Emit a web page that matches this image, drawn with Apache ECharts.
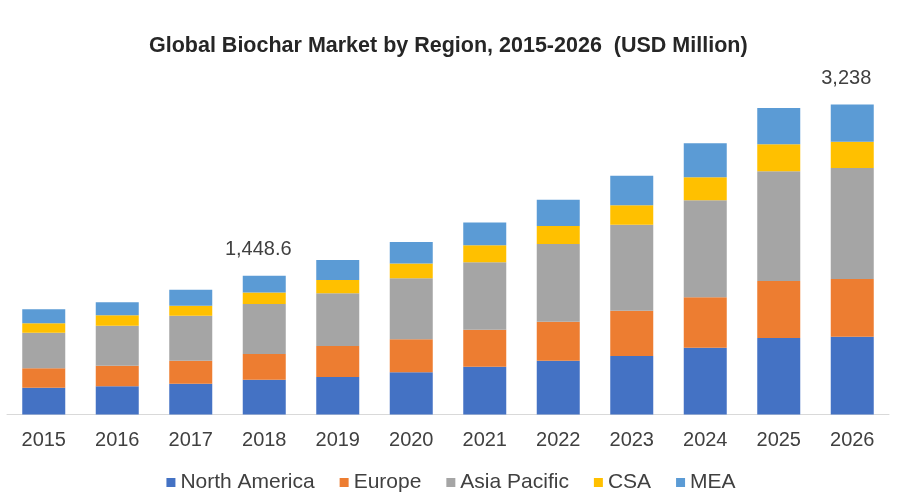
<!DOCTYPE html>
<html>
<head>
<meta charset="utf-8">
<script src="https://cdn.jsdelivr.net/npm/echarts@6/dist/echarts.min.js"></script>
<style>
html,body{margin:0;padding:0;background:#fff;}
#c{width:902px;height:501px;}
</style>
</head>
<body>
<div id="c"></div>
<script>
const years = ['2015','2016','2017','2018','2019','2020','2021','2022','2023','2024','2025','2026'];
const northAmerica = [280, 295, 322, 363, 392, 441, 500, 562, 611, 698, 799, 813];
const europe = [203, 215, 240, 270, 324, 345, 384, 408, 473, 527, 596, 603];
const asiaPacific = [372, 418, 470, 522, 551, 637, 707, 812, 899, 1014, 1146, 1160];
const csa = [98, 109, 105, 120, 139, 153, 178, 188, 203, 240, 282, 272];
const mea = [146, 136, 167, 173.6, 209, 227, 236, 272, 309, 355, 379, 390];
const labeledYears = ['2018', '2026'];

const totals = years.map((_, i) => northAmerica[i] + europe[i] + asiaPacific[i] + csa[i] + mea[i]);

const chart = echarts.init(document.getElementById('c'));
const font = '"Liberation Sans", Arial, sans-serif';
function mk(name, data, color, withLabel) {
  const s = {
    name, type: 'bar', stack: 'total', data, barWidth: 43,
    itemStyle: { color },
    emphasis: { disabled: true }
  };
  if (withLabel) {
    s.label = {
      show: true, position: 'top', distance: 16, offset: [-6, 0],
      color: '#404040', fontSize: 20, fontFamily: font,
      formatter: p => labeledYears.includes(years[p.dataIndex])
        ? (Math.round(totals[p.dataIndex] * 10) / 10).toLocaleString('en-US', { maximumFractionDigits: 1 })
        : ''
    };
  }
  return s;
}
chart.setOption({
  animation: false,
  backgroundColor: '#ffffff',
  title: {
    text: 'Global Biochar Market by Region, 2015-2026  (USD Million)',
    left: 144, top: 30,
    textStyle: { fontFamily: '"Liberation Sans Narrow", "Liberation Sans", Arial, sans-serif', fontWeight: 'bold', fontSize: 21.5, color: '#262626' }
  },
  legend: {
    bottom: 3, left: 'center',
    itemWidth: 9, itemHeight: 9, itemGap: 25,
    icon: 'rect',
    textStyle: { fontFamily: font, fontSize: 21, color: '#404040' },
    data: ['North America', 'Europe', 'Asia Pacific', 'CSA', 'MEA']
  },
  grid: { left: 7, right: 13, top: 89, bottom: 86.5 },
  xAxis: {
    type: 'category', data: years,
    axisLine: { show: true, lineStyle: { color: '#d9d9d9', width: 1 } },
    axisTick: { show: false },
    axisLabel: { fontFamily: font, fontSize: 20, color: '#404040', margin: 16 }
  },
  yAxis: {
    type: 'value', min: 0, max: 3400, show: false,
    splitLine: { show: false }
  },
  series: [
    mk('North America', northAmerica, '#4472C4'),
    mk('Europe', europe, '#ED7D31'),
    mk('Asia Pacific', asiaPacific, '#A5A5A5'),
    mk('CSA', csa, '#FFC000'),
    mk('MEA', mea, '#5B9BD5', true)
  ]
});
</script>
</body>
</html>
